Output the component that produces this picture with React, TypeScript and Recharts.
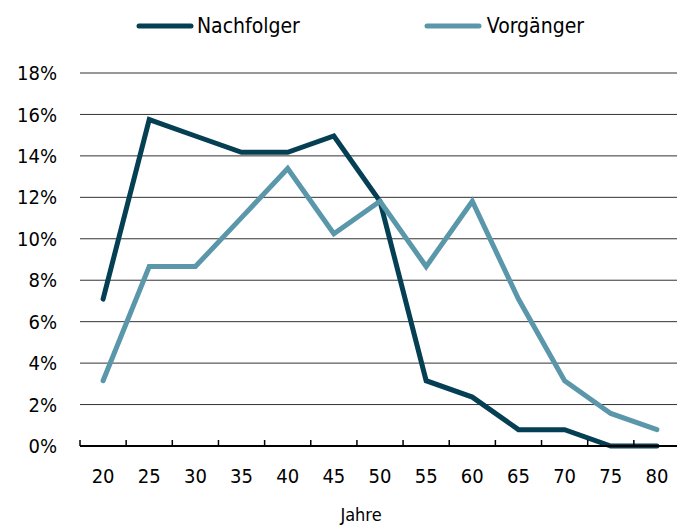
import React from "react";
import {
  LineChart,
  Line,
  XAxis,
  YAxis,
  CartesianGrid,
  Legend,
} from "recharts";

const FONT = '"DejaVu Sans Condensed", "Liberation Sans Narrow", sans-serif';
const DARK = "#053f53";
const LIGHT = "#5a97aa";

// Alter in Jahren
const ages = ["20", "25", "30", "35", "40", "45", "50", "55", "60", "65", "70", "75", "80"];
// Anteile in %
const nachfolger = [7.09, 15.75, 14.96, 14.17, 14.17, 14.96, 11.81, 3.15, 2.36, 0.79, 0.79, 0, 0];
const vorgaenger = [3.15, 8.66, 8.66, 11.02, 13.39, 10.24, 11.81, 8.66, 11.81, 7.09, 3.15, 1.57, 0.79];
const yTicks = [0, 2, 4, 6, 8, 10, 12, 14, 16, 18];

const data = ages.map((age, i) => ({
  age,
  Nachfolger: nachfolger[i],
  Vorgänger: vorgaenger[i],
}));

const legendItems = [
  { label: "Nachfolger", color: DARK, gap: 3 },
  { label: "Vorgänger", color: LIGHT, gap: 5 },
];

const renderLegend = () => (
  <div
    style={{
      display: "flex",
      justifyContent: "center",
      alignItems: "center",
      width: 720,
      height: 40,
      fontFamily: FONT,
      fontSize: 21,
      color: "#000",
    }}
  >
    {legendItems.map((item, i) => (
      <div
        key={item.label}
        style={{
          display: "flex",
          alignItems: "center",
          marginRight: i === 0 ? 124 : 0,
        }}
      >
        <svg width={58} height={8} style={{ marginRight: item.gap }}>
          <line
            x1={3}
            x2={55}
            y1={4}
            y2={4}
            stroke={item.color}
            strokeWidth={5}
            strokeLinecap="round"
          />
        </svg>
        <span>{item.label}</span>
      </div>
    ))}
  </div>
);

// label under the category, small tick mark on the band's left edge
const AgeTick = (props: any) => {
  const { x, y, payload } = props;
  const edge = x - (payload.offset ?? 0);
  return (
    <g>
      <line x1={edge} x2={edge} y1={y} y2={y - 6} stroke="#000" strokeWidth={1.5} />
      <text
        x={x}
        y={y + 23}
        dy="0.71em"
        textAnchor="middle"
        fill="#000"
        fontSize={20}
        fontFamily={FONT}
      >
        {payload.value}
      </text>
    </g>
  );
};

export default function App() {
  return (
    <div
      style={{
        position: "absolute",
        left: 0,
        top: 0,
        width: 677,
        height: 525,
        overflow: "hidden",
        background: "#fff",
      }}
    >
      <LineChart
        width={680}
        height={525}
        data={data}
        margin={{ top: 33, right: 0, bottom: 0, left: 0 }}
      >
        <CartesianGrid vertical={false} stroke="#333" strokeWidth={1} />
        <XAxis
          dataKey="age"
          scale="band"
          height={79}
          interval={0}
          tickLine={false}
          tickSize={0}
          tickMargin={0}
          axisLine={{ stroke: "#000", strokeWidth: 2 }}
          tick={<AgeTick />}
          label={{
            value: "Jahre",
            position: "insideBottom",
            offset: 4,
            dx: -19,
            fill: "#000",
            fontSize: 18,
            fontFamily: FONT,
          }}
        />
        <YAxis
          type="number"
          domain={[0, 18]}
          ticks={yTicks}
          width={80}
          axisLine={false}
          tickLine={false}
          tickSize={0}
          tickMargin={23}
          tickFormatter={(v) => `${v}%`}
          tick={{ fill: "#000", fontSize: 20, fontFamily: FONT }}
        />
        <Legend
          verticalAlign="top"
          content={renderLegend}
          wrapperStyle={{ left: 0, top: 6, width: 720, height: 40 }}
        />
        <Line
          type="linear"
          dataKey="Nachfolger"
          stroke={DARK}
          strokeWidth={5}
          strokeLinecap="round"
          dot={false}
          activeDot={false}
          isAnimationActive={false}
        />
        <Line
          type="linear"
          dataKey="Vorgänger"
          stroke={LIGHT}
          strokeWidth={5}
          strokeLinecap="round"
          dot={false}
          activeDot={false}
          isAnimationActive={false}
        />
      </LineChart>
    </div>
  );
}
